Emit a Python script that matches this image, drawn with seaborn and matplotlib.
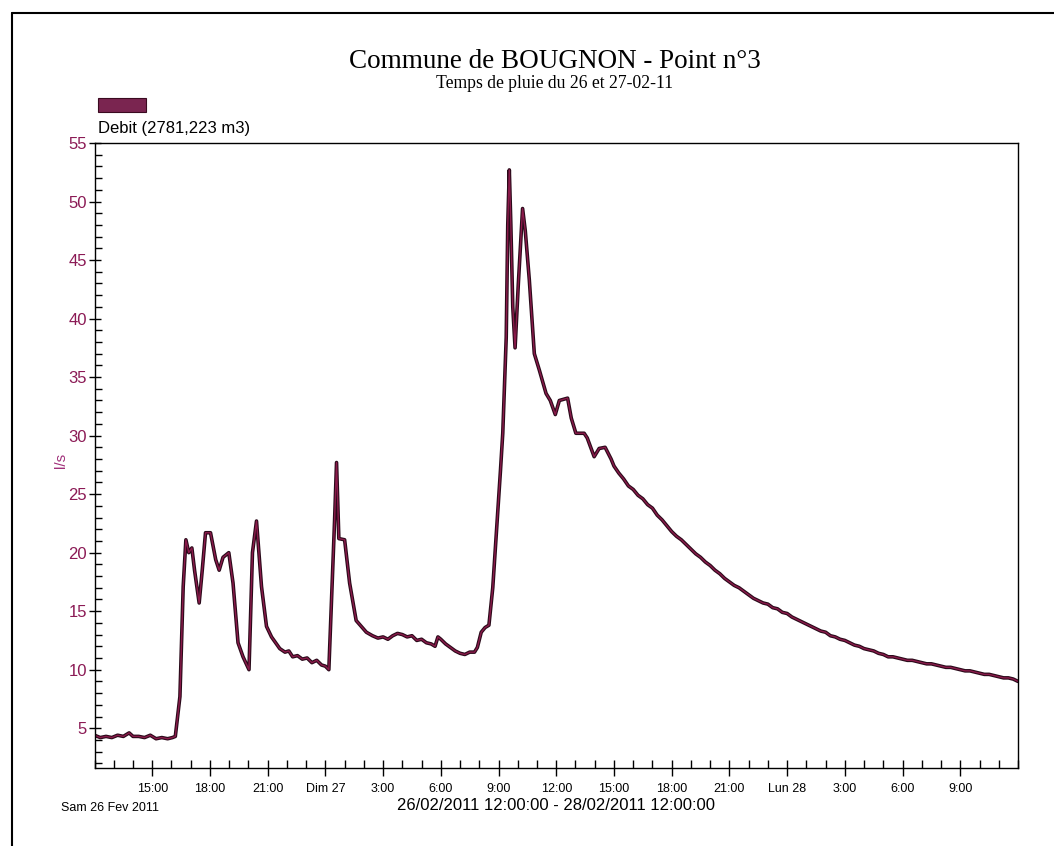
import matplotlib
matplotlib.use('Agg')
import matplotlib.pyplot as plt
import matplotlib.ticker as mticker
from matplotlib.patches import Rectangle
from matplotlib.lines import Line2D
import seaborn as sns
import pandas as pd

# Style de base
sns.set_style('white')
plt.rcParams['font.family'] = ['Liberation Sans', 'DejaVu Sans']
plt.rcParams['text.color'] = 'black'

# Heures depuis le samedi 26/02/2011 12:00
heures = [
    0.0, 0.3, 0.6, 0.9, 1.2, 1.5, 1.8, 2.0, 2.3, 2.6, 2.9, 3.2, 3.5, 3.8, 4.05,
    4.2, 4.44, 4.61, 4.75, 4.9, 5.06, 5.2, 5.44, 5.6, 5.77, 6.03, 6.3, 6.48, 6.68, 6.98,
    7.2, 7.46, 7.72, 8.03, 8.21, 8.42, 8.68, 8.94, 9.2, 9.63, 9.9, 10.1, 10.3, 10.55, 10.8,
    11.05, 11.3, 11.55, 11.8, 12.0, 12.18, 12.48, 12.58, 12.7, 13.0, 13.26, 13.6, 14.13, 14.45, 14.73,
    15.0, 15.25, 15.5, 15.75, 16.0, 16.25, 16.5, 16.75, 17.0, 17.25, 17.5, 17.7, 17.85, 18.0, 18.25,
    18.5, 18.75, 19.0, 19.25, 19.5, 19.75, 19.9, 20.1, 20.3, 20.5, 20.7, 20.9, 21.1, 21.22, 21.4,
    21.48, 21.56, 21.64, 21.74, 21.86, 22.03, 22.25, 22.39, 22.6, 22.86, 23.12, 23.47, 23.69, 23.95, 24.16,
    24.59, 24.78, 25.02, 25.45, 25.61, 25.97, 26.23, 26.54, 26.85,
    27.0, 27.25, 27.5, 27.75, 28.0, 28.25, 28.5, 28.75, 29.0, 29.25, 29.5, 29.75,
    30.0, 30.25, 30.5, 30.75, 31.0, 31.25, 31.5, 31.75, 32.0, 32.25, 32.5, 32.75,
    33.0, 33.25, 33.5, 33.75, 34.0, 34.25, 34.5, 34.75, 35.0, 35.25, 35.5, 35.75,
    36.0, 36.25, 36.5, 36.75, 37.0, 37.25, 37.5, 37.75, 38.0, 38.25, 38.5, 38.75,
    39.0, 39.25, 39.5, 39.75, 40.0, 40.25, 40.5, 40.75, 41.0, 41.25, 41.5, 41.75,
    42.0, 42.25, 42.5, 42.75, 43.0, 43.25, 43.5, 43.75, 44.0, 44.25, 44.5, 44.75,
    45.0, 45.25, 45.5, 45.75, 46.0, 46.25, 46.5, 46.75, 47.0, 47.25, 47.5, 47.75,
    48.0,
]

# Debit en l/s
debit = [
    4.4, 4.2, 4.3, 4.2, 4.4, 4.3, 4.6, 4.3, 4.3, 4.2, 4.4, 4.1, 4.2, 4.1, 4.2,
    4.3, 7.7, 17.1, 21.1, 20.0, 20.4, 18.5, 15.7, 18.5, 21.7, 21.7, 19.4, 18.5, 19.6, 20.0,
    17.4, 12.3, 11.1, 10.0, 20.0, 22.7, 17.1, 13.7, 12.8, 11.8, 11.5, 11.6, 11.1, 11.2, 10.9,
    11.0, 10.6, 10.8, 10.4, 10.3, 10.0, 22.8, 27.7, 21.2, 21.1, 17.4, 14.2, 13.2, 12.9, 12.7,
    12.8, 12.6, 12.9, 13.1, 13.0, 12.8, 12.9, 12.5, 12.6, 12.3, 12.2, 12.0, 12.8, 12.6, 12.2,
    11.9, 11.6, 11.4, 11.3, 11.5, 11.5, 11.9, 13.2, 13.6, 13.8, 17.0, 22.0, 27.0, 30.2, 38.4,
    48.0, 52.7, 48.0, 41.0, 37.5, 43.0, 49.4, 47.5, 43.3, 37.0, 35.6, 33.6, 33.0, 31.8, 33.0,
    33.2, 31.5, 30.2, 30.2, 29.8, 28.2, 28.9, 29.0, 28.0,
    27.4, 26.8, 26.3, 25.7, 25.4, 24.9, 24.6, 24.1, 23.8, 23.2, 22.8, 22.3,
    21.8, 21.4, 21.1, 20.7, 20.3, 19.9, 19.6, 19.2, 18.9, 18.5, 18.2, 17.8,
    17.5, 17.2, 17.0, 16.7, 16.4, 16.1, 15.9, 15.7, 15.6, 15.3, 15.2, 14.9,
    14.8, 14.5, 14.3, 14.1, 13.9, 13.7, 13.5, 13.3, 13.2, 12.9, 12.8, 12.6,
    12.5, 12.3, 12.1, 12.0, 11.8, 11.7, 11.6, 11.4, 11.3, 11.1, 11.1, 11.0,
    10.9, 10.8, 10.8, 10.7, 10.6, 10.5, 10.5, 10.4, 10.3, 10.2, 10.2, 10.1,
    10.0, 9.9, 9.9, 9.8, 9.7, 9.6, 9.6, 9.5, 9.4, 9.3, 9.3, 9.2,
    9.0,
]

# Graduations de l'axe des temps
ticks_heures = [3, 6, 9, 12, 15, 18, 21, 24, 27, 30, 33, 36, 39, 42, 45]
ticks_labels = ['15:00', '18:00', '21:00', 'Dim 27', '3:00', '6:00', '9:00',
                '12:00', '15:00', '18:00', '21:00', 'Lun 28', '3:00', '6:00', '9:00']

df = pd.DataFrame({'heure': heures, 'debit': debit})

W, H = 1054, 846
fig = plt.figure(figsize=(W / 100, H / 100), dpi=100)
ax = fig.add_axes([94.5 / W, 1 - 768 / H, (1018 - 94.5) / W, (768 - 143) / H])

sns.lineplot(data=df, x='heure', y='debit', ax=ax, color='#2a0a1a', linewidth=2.6)
sns.lineplot(data=df, x='heure', y='debit', ax=ax, color='#8a1a4a', linewidth=1.0)

ax.set_xlim(0, 48)
ax.set_ylim(1.6, 55)

# Axe X
ax.xaxis.set_major_locator(mticker.FixedLocator(ticks_heures))
ax.xaxis.set_major_formatter(mticker.FixedFormatter(ticks_labels))
ax.xaxis.set_minor_locator(mticker.MultipleLocator(1))
ax.tick_params(axis='x', which='both', bottom=True)
ax.tick_params(axis='x', which='major', direction='inout', length=12, width=1,
               labelsize=9, pad=5, colors='black')
ax.tick_params(axis='x', which='minor', direction='in', length=5.5, width=1, colors='black')

# Axe Y
ax.yaxis.set_major_locator(mticker.MultipleLocator(5))
ax.yaxis.set_minor_locator(mticker.MultipleLocator(1))
ax.tick_params(axis='y', which='both', left=True)
ax.tick_params(axis='y', which='major', direction='inout', length=9, width=1,
               labelsize=12, pad=1, color='black', labelcolor='#8b1a55')
ax.tick_params(axis='y', which='minor', direction='in', length=5, width=1, color='black')

ax.set_xlabel('26/02/2011 12:00:00 - 28/02/2011 12:00:00', fontsize=12, labelpad=2,
              color='black')
ax.set_ylabel('')
fig.text(61 / W, 1 - 460 / H, 'l/s', rotation=90, ha='center', va='center',
         fontsize=11, color='#a0307a')

for s in ax.spines.values():
    s.set_visible(True)
    s.set_color('black')
    s.set_linewidth(1.0)
ax.grid(False)

# Titres
fig.text(555 / W, 1 - 61 / H, 'Commune de BOUGNON - Point n°3', ha='center', va='center',
         fontsize=19.5, family=['Liberation Serif', 'DejaVu Serif'])
fig.text(555 / W, 1 - 83 / H, 'Temps de pluie du 26 et 27-02-11', ha='center', va='center',
         fontsize=12.7, family=['Liberation Serif', 'DejaVu Serif'])

# Legende
fig.patches.append(Rectangle((98 / W, 1 - 112 / H), 48 / W, 14 / H, transform=fig.transFigure,
                             facecolor='#7a2550', edgecolor='#3a0a20', linewidth=0.8))
fig.text(98 / W, 1 - 128 / H, 'Debit (2781,223 m3)', ha='left', va='center', fontsize=12)

fig.text(110 / W, 1 - 808 / H, 'Sam 26 Fev 2011', ha='center', va='center', fontsize=9)

# Cadre de la figure
fig.add_artist(Line2D([12 / W, 12 / W], [0, 1 - 13 / H], transform=fig.transFigure,
                      color='black', linewidth=1.5))
fig.add_artist(Line2D([12 / W, 1], [1 - 13 / H, 1 - 13 / H], transform=fig.transFigure,
                      color='black', linewidth=1.5))

fig.savefig('out.png', dpi=100, facecolor='white')
